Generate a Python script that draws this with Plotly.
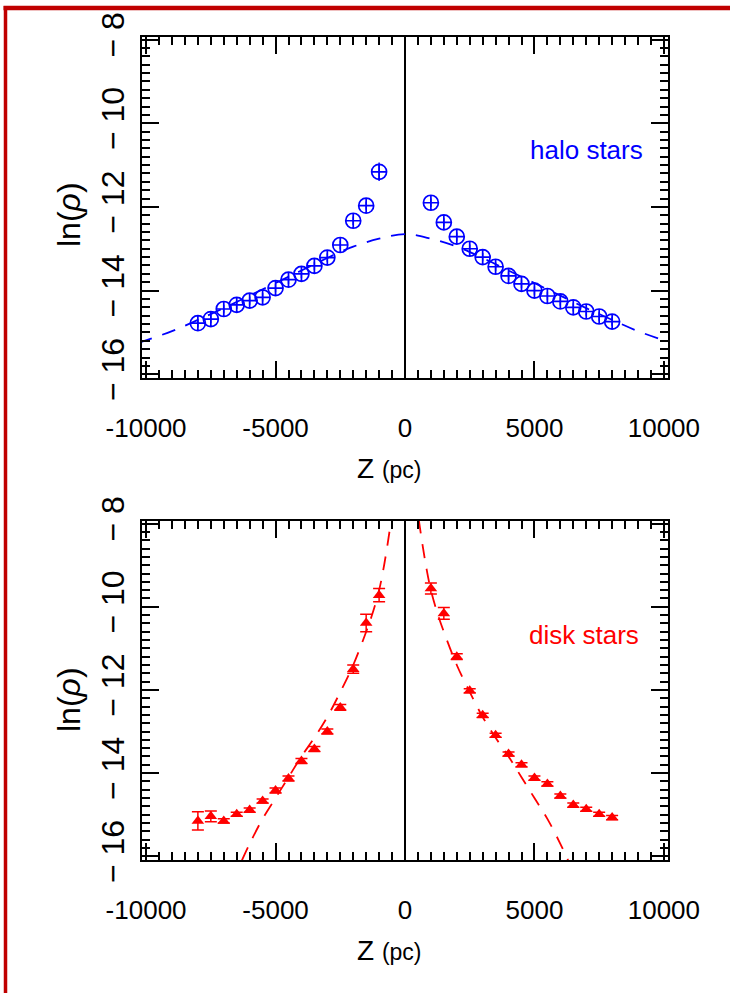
import plotly.graph_objects as go

# ---------------- data ----------------
z_halo = [-8000, -7500, -7000, -6500, -6000, -5500, -5000, -4500, -4000, -3500, -3000, -2500, -2000, -1500, -1000,
          1000, 1500, 2000, 2500, 3000, 3500, 4000, 4500, 5000, 5500, 6000, 6500, 7000, 7500, 8000]
lnrho_halo = [-14.78, -14.68, -14.44, -14.34, -14.24, -14.16, -13.94, -13.74, -13.60, -13.41, -13.21, -12.91, -12.33, -11.97, -11.16,
              -11.90, -12.37, -12.71, -13.00, -13.20, -13.43, -13.65, -13.84, -14.00, -14.13, -14.26, -14.40, -14.50, -14.62, -14.74]
err_halo = [0.1] * 14 + [0.22] + [0.1] * 15

z_halo_fit = [-10300, -9000, -8000, -7000, -6000, -5000, -4000, -3000, -2000, -1000, 0,
              1000, 2000, 3000, 4000, 5000, 6000, 7000, 8000, 9000, 10300]
lnrho_halo_fit = [-15.25, -14.97, -14.70, -14.42, -14.12, -13.82, -13.52, -13.22, -12.95, -12.76, -12.65,
                  -12.76, -12.95, -13.22, -13.52, -13.82, -14.12, -14.42, -14.70, -14.97, -15.25]

z_disk = z_halo
lnrho_disk = [-15.15, -15.04, -15.15, -14.99, -14.89, -14.67, -14.42, -14.13, -13.71, -13.42, -13.00, -12.42, -11.50, -10.39, -9.72,
              -9.56, -10.16, -11.20, -12.02, -12.61, -13.09, -13.54, -13.80, -14.12, -14.26, -14.55, -14.77, -14.87, -14.99, -15.07]
err_disk = [0.22, 0.13, 0.05, 0.05, 0.05, 0.05, 0.06, 0.06, 0.06, 0.06, 0.06, 0.07, 0.10, 0.21, 0.16,
            0.13, 0.14, 0.07, 0.05, 0.05, 0.05, 0.05, 0.05, 0.05, 0.05, 0.05, 0.05, 0.05, 0.05, 0.05]

z_disk_fit_left = [-6300, -6000, -5500, -5000, -4500, -4000, -3500, -3000, -2500, -2000, -1500, -1250, -1000, -850, -700, -550, -400]
lnrho_disk_fit_left = [-16.1, -15.7, -15.1, -14.6, -14.1, -13.6, -13.15, -12.65, -12.05, -11.4, -10.6, -10.15, -9.6, -9.15, -8.6, -7.98, -7.3]
z_disk_fit_right = [400, 550, 700, 850, 1000, 1250, 1500, 2000, 2500, 3000, 3500, 4000, 4500, 5000, 5500, 6000, 6300]
lnrho_disk_fit_right = [-7.3, -7.98, -8.6, -9.15, -9.6, -10.15, -10.6, -11.4, -12.05, -12.65, -13.15, -13.6, -14.1, -14.6, -15.1, -15.7, -16.1]

x_tickvals = [-10000, -5000, 0, 5000, 10000]
x_ticktext = ["-10000", "-5000", "0", "5000", "10000"]
y_tickvals = [-16, -14, -12, -10, -8]
y_ticktext = ["\u2212 16", "\u2212 14", "\u2212 12", "\u2212 10", "\u2212 8"]

BLUE = "#0000ff"
RED = "#ff0000"
FONT = "Liberation Sans, Arial, sans-serif"

W, H = 730, 993
def px(x):
    return x / W
def py(y):
    return 1 - y / H

fig = go.Figure()

# halo
fig.add_trace(go.Scatter(x=z_halo_fit, y=lnrho_halo_fit, mode="lines", line=dict(color=BLUE, width=1.8, dash="14px,11px", shape="spline"),
                         xaxis="x", yaxis="y", showlegend=False, hoverinfo="skip"))
fig.add_trace(go.Scatter(x=z_halo, y=lnrho_halo, mode="markers",
                         marker=dict(symbol="circle-cross-open", size=15, color=BLUE, line=dict(width=1.7, color=BLUE)),
                         error_y=dict(type="data", array=err_halo, color=BLUE, thickness=1.4, width=0),
                         xaxis="x", yaxis="y", showlegend=False))
# disk
fig.add_trace(go.Scatter(x=z_disk_fit_left, y=lnrho_disk_fit_left, mode="lines", line=dict(color=RED, width=1.8, dash="14px,11px", shape="spline"),
                         xaxis="x2", yaxis="y2", showlegend=False, hoverinfo="skip"))
fig.add_trace(go.Scatter(x=z_disk_fit_right, y=lnrho_disk_fit_right, mode="lines", line=dict(color=RED, width=1.8, dash="14px,11px", shape="spline"),
                         xaxis="x2", yaxis="y2", showlegend=False, hoverinfo="skip"))
fig.add_trace(go.Scatter(x=z_disk, y=lnrho_disk, mode="markers",
                         marker=dict(symbol="triangle-up", size=11, color=RED),
                         error_y=dict(type="data", array=err_disk, color=RED, thickness=1.5, width=6),
                         xaxis="x2", yaxis="y2", showlegend=False))

xrng = [-10170, 10170]
yrng = [-16.09, -7.93]

def xaxis_cfg(anchor):
    return dict(domain=[px(141.7), px(668.3)], range=xrng, anchor=anchor, automargin=False,
                showline=True, linecolor="black", linewidth=2.2, mirror="allticks",
                ticks="inside", ticklen=17, tickwidth=1.5, tickcolor="black",
                tickvals=x_tickvals, ticktext=x_ticktext,
                tickfont=dict(family=FONT, size=26, color="black"),
                ticklabelstandoff=26,
                minor=dict(ticks="inside", ticklen=8, tickwidth=1.5, tickcolor="black", dtick=500, tick0=0, showgrid=False),
                showgrid=False, zeroline=True, zerolinecolor="black", zerolinewidth=2)

def yaxis_cfg(anchor, dom):
    return dict(domain=dom, range=yrng, anchor=anchor, automargin=False,
                showline=True, linecolor="black", linewidth=2.2, mirror="allticks",
                ticks="inside", ticklen=17, tickwidth=1.5, tickcolor="black",
                tickvals=y_tickvals, ticktext=y_ticktext, tickangle=-90,
                tickfont=dict(family=FONT, size=32, color="black"),
                ticklabelstandoff=3,
                minor=dict(ticks="inside", ticklen=8, tickwidth=1.5, tickcolor="black", dtick=0.2, tick0=0, showgrid=False),
                showgrid=False, zeroline=False)

def ann(text, x, y, size, color, angle=0):
    return dict(text=text, x=px(x), y=py(y), xref="paper", yref="paper", showarrow=False,
                xanchor="center", yanchor="middle", textangle=angle,
                font=dict(family=FONT, size=size, color=color))

annotations = [
    ann("halo stars", 586.7, 150, 26, BLUE),
    ann("disk stars", 584, 635, 26, RED),
    ann("ln(<i>\u03c1</i>)", 69, 215, 32, "black", -90),
    ann("ln(<i>\u03c1</i>)", 69, 700, 32, "black", -90),
    ann("Z <span style='font-size:23px'>(pc)</span>", 389, 468, 28, "black"),
    ann("Z <span style='font-size:23px'>(pc)</span>", 389, 950, 28, "black"),
]

shapes = [
    dict(type="line", xref="paper", yref="paper", x0=px(3.5), x1=1.01, y0=py(8), y1=py(8), line=dict(color="#c00000", width=4.5)),
    dict(type="line", xref="paper", yref="paper", x0=px(5.5), x1=px(5.5), y0=py(6), y1=-0.01, line=dict(color="#c00000", width=3.5)),
]

fig.update_layout(
    width=W, height=H, margin=dict(l=0, r=0, t=0, b=0, autoexpand=False),
    paper_bgcolor="white", plot_bgcolor="white",
    xaxis=xaxis_cfg("y"), yaxis=yaxis_cfg("x", [py(378), py(36.7)]),
    xaxis2=xaxis_cfg("y2"), yaxis2=yaxis_cfg("x2", [py(860), py(520.7)]),
    annotations=annotations, shapes=shapes, showlegend=False,
)

fig.write_html("out.html")
